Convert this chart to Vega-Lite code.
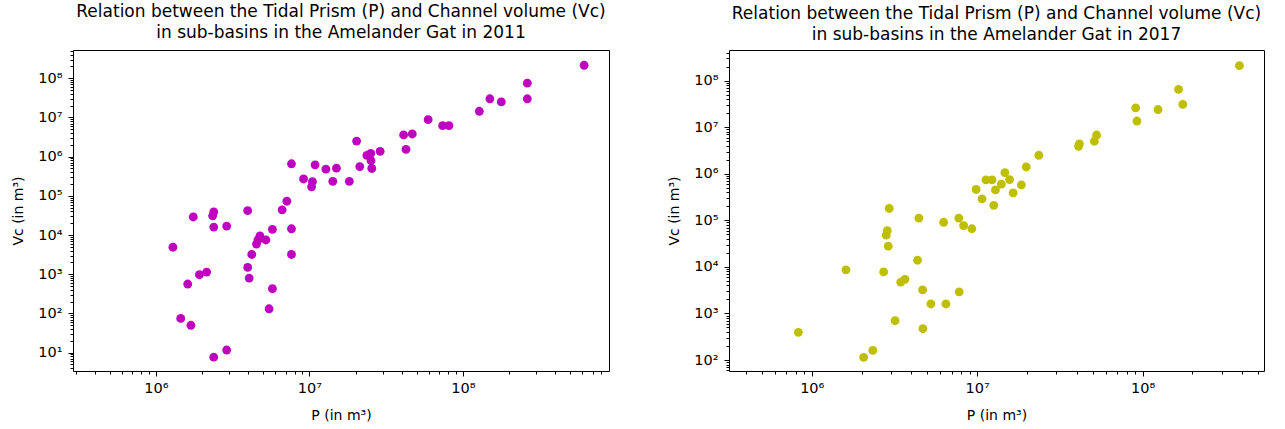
{
  "$schema": "https://vega.github.io/schema/vega-lite/v6.json",
  "background": "white",
  "padding": {"left": 11, "top": 2, "right": 5, "bottom": 5},
  "spacing": 120,
  "bounds": "flush",
  "datasets": {
    "y2011": [
      {"P": 1.29e6, "V": 4.9e3}, {"P": 1.45e6, "V": 75}, {"P": 1.69e6, "V": 50}, {"P": 1.61e6, "V": 564},
      {"P": 1.75e6, "V": 2.9e4}, {"P": 1.92e6, "V": 975}, {"P": 2.14e6, "V": 1140}, {"P": 2.34e6, "V": 3.1e4},
      {"P": 2.38e6, "V": 3.9e4}, {"P": 2.38e6, "V": 1.6e4}, {"P": 2.38e6, "V": 7.7}, {"P": 2.89e6, "V": 11.7},
      {"P": 2.89e6, "V": 1.7e4}, {"P": 3.96e6, "V": 4.2e4}, {"P": 3.96e6, "V": 1500}, {"P": 4.05e6, "V": 800},
      {"P": 4.21e6, "V": 3200}, {"P": 4.52e6, "V": 5900}, {"P": 4.62e6, "V": 7500}, {"P": 4.76e6, "V": 9500},
      {"P": 5.2e6, "V": 7500}, {"P": 5.46e6, "V": 132}, {"P": 5.74e6, "V": 428}, {"P": 5.74e6, "V": 1.4e4},
      {"P": 6.64e6, "V": 4.4e4}, {"P": 7.13e6, "V": 7.3e4}, {"P": 7.64e6, "V": 6.6e5}, {"P": 7.64e6, "V": 1.45e4},
      {"P": 7.64e6, "V": 3200}, {"P": 9.16e6, "V": 2.7e5}, {"P": 1.047e7, "V": 2.3e5}, {"P": 1.033e7, "V": 1.7e5},
      {"P": 1.089e7, "V": 6.2e5}, {"P": 1.28e7, "V": 4.8e5}, {"P": 1.42e7, "V": 2.35e5}, {"P": 1.5e7, "V": 5.1e5},
      {"P": 1.82e7, "V": 2.35e5}, {"P": 2.03e7, "V": 2.5e6}, {"P": 2.13e7, "V": 5.6e5}, {"P": 2.37e7, "V": 1.08e6},
      {"P": 2.51e7, "V": 1.22e6}, {"P": 2.52e7, "V": 7.9e5}, {"P": 2.55e7, "V": 5.0e5}, {"P": 2.89e7, "V": 1.37e6},
      {"P": 4.11e7, "V": 3.6e6}, {"P": 4.68e7, "V": 3.8e6}, {"P": 4.26e7, "V": 1.54e6}, {"P": 5.94e7, "V": 8.8e6},
      {"P": 7.38e7, "V": 6.2e6}, {"P": 8.11e7, "V": 6.2e6}, {"P": 1.28e8, "V": 1.44e7}, {"P": 1.5e8, "V": 3.0e7},
      {"P": 1.78e8, "V": 2.5e7}, {"P": 2.63e8, "V": 7.5e7}, {"P": 2.63e8, "V": 3.0e7}, {"P": 6.17e8, "V": 2.15e8}
    ],
    "y2017": [
      {"P": 8.3e5, "V": 394}, {"P": 2.06e6, "V": 114}, {"P": 2.34e6, "V": 161}, {"P": 1.61e6, "V": 8600},
      {"P": 2.72e6, "V": 7800}, {"P": 2.82e6, "V": 4.8e4}, {"P": 2.86e6, "V": 6.0e4}, {"P": 2.9e6, "V": 2.8e4},
      {"P": 2.94e6, "V": 1.8e5}, {"P": 3.19e6, "V": 698}, {"P": 3.45e6, "V": 4700}, {"P": 3.66e6, "V": 5400},
      {"P": 4.36e6, "V": 1.39e4}, {"P": 4.44e6, "V": 1.12e5}, {"P": 4.68e6, "V": 3200}, {"P": 4.7e6, "V": 470},
      {"P": 5.25e6, "V": 1600}, {"P": 6.27e6, "V": 9.1e4}, {"P": 6.47e6, "V": 1600}, {"P": 7.74e6, "V": 1.12e5},
      {"P": 7.78e6, "V": 2900}, {"P": 8.28e6, "V": 7.7e4}, {"P": 9.29e6, "V": 6.6e4}, {"P": 9.86e6, "V": 4.6e5},
      {"P": 1.07e7, "V": 2.9e5}, {"P": 1.13e7, "V": 7.4e5}, {"P": 1.23e7, "V": 7.4e5}, {"P": 1.26e7, "V": 2.1e5},
      {"P": 1.29e7, "V": 4.5e5}, {"P": 1.4e7, "V": 6.0e5}, {"P": 1.47e7, "V": 1.06e6}, {"P": 1.57e7, "V": 7.5e5},
      {"P": 1.65e7, "V": 3.9e5}, {"P": 1.85e7, "V": 5.8e5}, {"P": 1.98e7, "V": 1.4e6}, {"P": 2.36e7, "V": 2.5e6},
      {"P": 4.1e7, "V": 3.9e6}, {"P": 4.15e7, "V": 4.4e6}, {"P": 5.11e7, "V": 5.0e6}, {"P": 5.27e7, "V": 6.8e6},
      {"P": 9.08e7, "V": 2.6e7}, {"P": 9.25e7, "V": 1.36e7}, {"P": 1.24e8, "V": 2.4e7}, {"P": 1.65e8, "V": 6.5e7},
      {"P": 1.75e8, "V": 3.1e7}, {"P": 3.85e8, "V": 2.1e8}
    ]
  },
  "hconcat": [
    {
      "width": 536,
      "height": 321,
      "title": {"text": ["Relation between the Tidal Prism (P) and Channel volume (Vc)", "in sub-basins in the Amelander Gat in 2011"]},
      "data": {"name": "y2011"},
      "mark": {"type": "point", "filled": true, "size": 78, "opacity": 1, "color": "#bf00bf"},
      "encoding": {
        "x": {
          "field": "P", "type": "quantitative",
          "scale": {"type": "log", "domain": [2.88e5, 8.96e8], "nice": false, "zero": false},
          "axis": {
            "title": "P (in m³)",
            "labelPadding": 5,
            "titlePadding": 14,
            "values": [3e5,4e5,5e5,6e5,7e5,8e5,9e5,1e6,2e6,3e6,4e6,5e6,6e6,7e6,8e6,9e6,1e7,2e7,3e7,4e7,5e7,6e7,7e7,8e7,9e7,1e8,2e8,3e8,4e8,5e8,6e8,7e8,8e8]
          }
        },
        "y": {
          "field": "V", "type": "quantitative",
          "scale": {"type": "log", "domain": [3.41, 5.27e8], "nice": false, "zero": false},
          "axis": {
            "title": "Vc (in m³)",
            "labelPadding": 6,
            "titlePadding": 12,
            "values": [4,5,6,7,8,9,10,20,30,40,50,60,70,80,90,100,200,300,400,500,600,700,800,900,1e3,2e3,3e3,4e3,5e3,6e3,7e3,8e3,9e3,1e4,2e4,3e4,4e4,5e4,6e4,7e4,8e4,9e4,1e5,2e5,3e5,4e5,5e5,6e5,7e5,8e5,9e5,1e6,2e6,3e6,4e6,5e6,6e6,7e6,8e6,9e6,1e7,2e7,3e7,4e7,5e7,6e7,7e7,8e7,9e7,1e8,2e8,3e8,4e8,5e8]
          }
        }
      }
    },
    {
      "width": 535,
      "height": 321,
      "title": {"text": ["Relation between the Tidal Prism (P) and Channel volume (Vc)", "in sub-basins in the Amelander Gat in 2017"]},
      "data": {"name": "y2017"},
      "mark": {"type": "point", "filled": true, "size": 78, "opacity": 1, "color": "#bfbf00"},
      "encoding": {
        "x": {
          "field": "P", "type": "quantitative",
          "scale": {"type": "log", "domain": [3.16e5, 5.42e8], "nice": false, "zero": false},
          "axis": {
            "title": "P (in m³)",
            "labelPadding": 5,
            "titlePadding": 14,
            "values": [4e5,5e5,6e5,7e5,8e5,9e5,1e6,2e6,3e6,4e6,5e6,6e6,7e6,8e6,9e6,1e7,2e7,3e7,4e7,5e7,6e7,7e7,8e7,9e7,1e8,2e8,3e8,4e8,5e8]
          }
        },
        "y": {
          "field": "V", "type": "quantitative",
          "scale": {"type": "log", "domain": [58.1, 4.56e8], "nice": false, "zero": false},
          "axis": {
            "title": "Vc (in m³)",
            "labelPadding": 6,
            "titlePadding": 12,
            "values": [60,70,80,90,100,200,300,400,500,600,700,800,900,1e3,2e3,3e3,4e3,5e3,6e3,7e3,8e3,9e3,1e4,2e4,3e4,4e4,5e4,6e4,7e4,8e4,9e4,1e5,2e5,3e5,4e5,5e5,6e5,7e5,8e5,9e5,1e6,2e6,3e6,4e6,5e6,6e6,7e6,8e6,9e6,1e7,2e7,3e7,4e7,5e7,6e7,7e7,8e7,9e7,1e8,2e8,3e8,4e8]
          }
        }
      }
    }
  ],
  "config": {
    "font": "DejaVu Sans",
    "view": {"stroke": "black", "strokeWidth": 1},
    "title": {"font": "DejaVu Sans", "fontSize": 17, "fontWeight": "normal", "color": "black", "anchor": "middle", "lineHeight": 21, "offset": 1},
    "axis": {
      "domain": false,
      "grid": false,
      "labelFont": "DejaVu Sans",
      "labelFontSize": 14.5,
      "labelColor": "black",
      "labelOverlap": false,
      "labelBound": false,
      "labelFlush": false,
      "tickColor": "black",
      "tickWidth": 1,
      "tickSize": {"condition": {"test": "abs(log(datum.value)/LN10 - round(log(datum.value)/LN10)) < 1e-6", "value": 5}, "value": 3},
      "labelExpr": "abs(log(datum.value)/LN10 - round(log(datum.value)/LN10)) < 1e-6 ? '10' + ['⁰','¹','²','³','⁴','⁵','⁶','⁷','⁸','⁹'][round(log(datum.value)/LN10)] : ''",
      "titleFont": "DejaVu Sans",
      "titleFontSize": 14,
      "titleFontWeight": "normal",
      "titleColor": "black"
    }
  }
}
